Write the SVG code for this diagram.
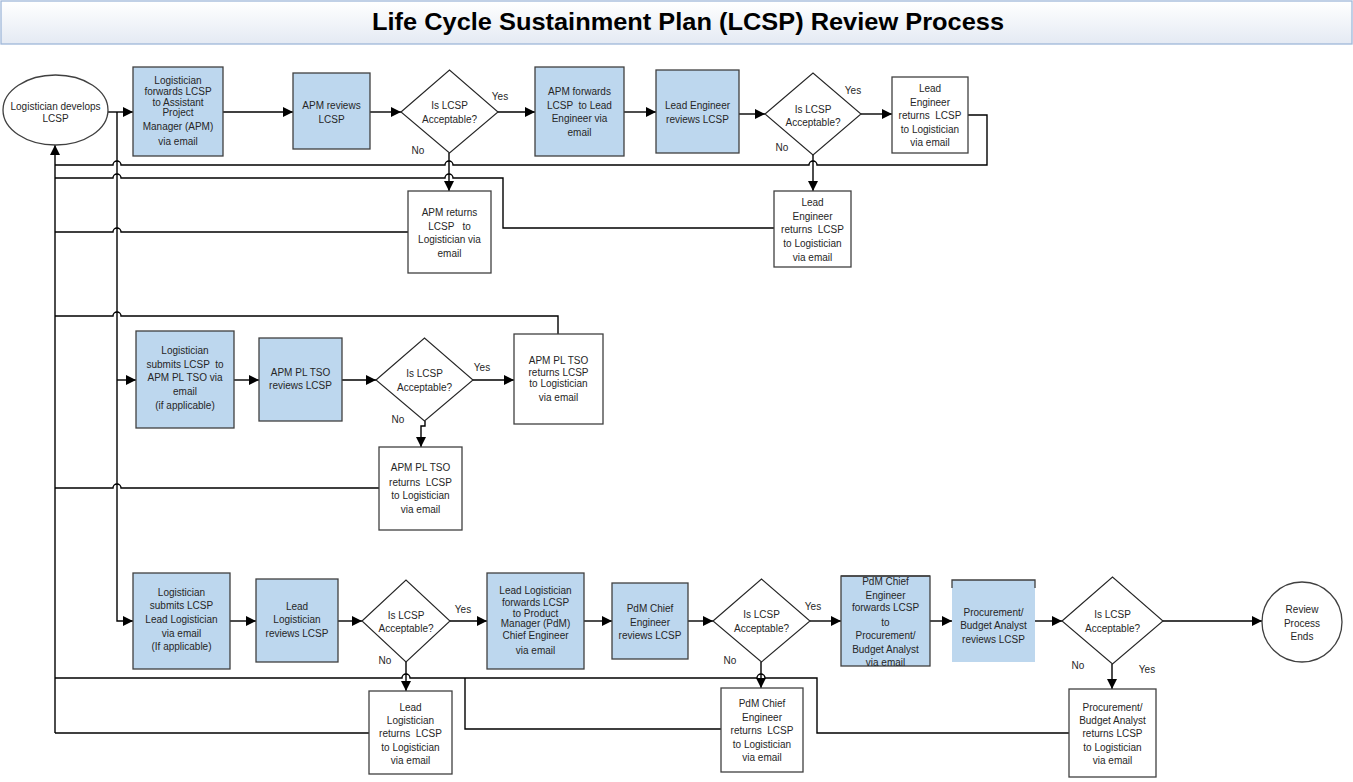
<svg xmlns="http://www.w3.org/2000/svg" width="1353" height="782" viewBox="0 0 1353 782">
<defs>
<linearGradient id="tg" x1="0" y1="0" x2="0" y2="1"><stop offset="0" stop-color="#ffffff"/><stop offset="1" stop-color="#e4eaf3"/></linearGradient>
<marker id="ah" markerWidth="10" markerHeight="10" refX="10" refY="5" orient="auto" markerUnits="userSpaceOnUse"><path d="M0,0 L10,5 L0,10 z" fill="#000"/></marker>
</defs>
<style>
text{font-family:"Liberation Sans",Arial,sans-serif;font-size:10px;fill:#262626;text-anchor:middle;white-space:pre}
.b{fill:#bdd7ee;stroke:#404040;stroke-width:1.3}
.w{fill:#fff;stroke:#404040;stroke-width:1.3}
.d{fill:#fff;stroke:#262626;stroke-width:1.1}
.c{fill:none;stroke:#000;stroke-width:1.4}
.a{marker-end:url(#ah)}
.t{font-family:"Liberation Sans Narrow","Liberation Sans",Arial,sans-serif;font-size:24px;font-weight:bold;fill:#000}
</style>
<rect width="1353" height="782" fill="#fff"/>
<g id="title"><rect x="1" y="1" width="1351" height="43" fill="url(#tg)" stroke="#9fb7d9" stroke-width="1.3"/><text class="t" x="688" y="30" textLength="632" lengthAdjust="spacingAndGlyphs">Life Cycle Sustainment Plan (LCSP) Review Process</text></g>
<g id="connectors">
<path class="c a" d="M108,112 H133"/>
<path class="c a" d="M117,112 V621 H133"/>
<path class="c a" d="M117,380 H136"/>
<path class="c a" d="M223,112 H293"/>
<path class="c a" d="M370,112 H401"/>
<path class="c a" d="M498,112 H535"/>
<path class="c a" d="M624,112 H656"/>
<path class="c a" d="M739,114 H765"/>
<path class="c a" d="M861,114 H892"/>
<path class="c a" d="M449,153 V191"/>
<path class="c a" d="M813,155 V191"/>
<path class="c" d="M55,165 H113 A4,4 0 0 1 121,165 H445 A4,4 0 0 1 453,165 H809 A4,4 0 0 1 817,165 H987 V115 H968"/>
<path class="c" d="M55,178 H113 A4,4 0 0 1 121,178 H445 A4,4 0 0 1 453,178 H503 V228 H774"/>
<path class="c" d="M55,232 H113 A4,4 0 0 1 121,232 H408"/>
<path class="c" d="M55,316 H113 A4,4 0 0 1 121,316 H558 V334"/>
<path class="c" d="M55,488 H113 A4,4 0 0 1 121,488 H379"/>
<path class="c a" d="M234,380 H259"/>
<path class="c a" d="M342,380 H376"/>
<path class="c a" d="M473,380 H514"/>
<path class="c a" d="M425,421 V426 H421 V447"/>
<path class="c a" d="M230,621 H256"/>
<path class="c a" d="M338,621 H362"/>
<path class="c a" d="M450,621 H487"/>
<path class="c a" d="M584,621 H612"/>
<path class="c a" d="M688,621 H713"/>
<path class="c a" d="M810,621 H841"/>
<path class="c a" d="M930,621 H952"/>
<path class="c a" d="M1035,621 H1062"/>
<path class="c a" d="M1163,621 H1262"/>
<path class="c a" d="M406,662 V691"/>
<path class="c a" d="M761,662 V688"/>
<path class="c a" d="M1112,664 V689"/>
<path class="c" stroke-width="2" d="M55,678 H402 A4,4 0 0 1 410,678 H465"/>
<path class="c" d="M465,678 H757 A4,4 0 0 1 765,678 H817 V733 H1069"/>
<path class="c" d="M465,678 V729 H721"/>
<path class="c" d="M369,733 H55"/>
<path class="c a" stroke-width="2.6" d="M55,733 V145"/>
</g>
<g id="start"><ellipse cx="55.5" cy="110" rx="52.5" ry="35" class="w"/><text x="55.5" y="110">Logistician develops</text><text x="55.5" y="122">LCSP</text></g>
<g id="n1"><rect x="133" y="67" width="90" height="89" class="b"/><text x="178" y="84">Logistician</text><text x="178" y="94.5">forwards LCSP</text><text x="178" y="106">to Assistant</text><text x="178" y="115.5">Project</text><text x="178" y="129.5">Manager (APM)</text><text x="178" y="144.5">via email</text></g>
<g id="n2"><rect x="293" y="73" width="77" height="76" class="b"/><text x="331.5" y="108.5">APM reviews</text><text x="331.5" y="122.5">LCSP</text></g>
<g id="d1"><path d="M401,112 L449.5,70 L498,112 L449.5,153 Z" class="d"/><text x="449.5" y="108.5">Is LCSP</text><text x="449.5" y="122.5">Acceptable?</text><text x="500" y="100">Yes</text><text x="418" y="153.5">No</text></g>
<g id="n3"><rect x="535" y="67" width="89" height="89" class="b"/><text x="579.5" y="94.5">APM forwards</text><text x="579.5" y="108.5">LCSP  to Lead</text><text x="579.5" y="121.5">Engineer via</text><text x="579.5" y="135.5">email</text></g>
<g id="n4"><rect x="656" y="70" width="83" height="83" class="b"/><text x="697.5" y="108.5">Lead Engineer</text><text x="697.5" y="122.5">reviews LCSP</text></g>
<g id="d2"><path d="M765,114 L813,73 L861,114 L813,155 Z" class="d"/><text x="813" y="112.5">Is LCSP</text><text x="813" y="125.5">Acceptable?</text><text x="853" y="93.5">Yes</text><text x="782" y="150.5">No</text></g>
<g id="n5"><rect x="892" y="77" width="76" height="76" class="w"/><text x="930" y="91.5">Lead</text><text x="930" y="105.5">Engineer</text><text x="930" y="118.5">returns  LCSP</text><text x="930" y="132.5">to Logistician</text><text x="930" y="145.5">via email</text></g>
<g id="n6"><rect x="408" y="191" width="83" height="82" class="w"/><text x="449.5" y="215.5">APM returns</text><text x="449.5" y="229.5">LCSP   to</text><text x="449.5" y="242.5">Logistician via</text><text x="449.5" y="256.5">email</text></g>
<g id="n7"><rect x="774" y="191" width="77" height="76" class="w"/><text x="812.5" y="205.5">Lead</text><text x="812.5" y="219.5">Engineer</text><text x="812.5" y="232.5">returns  LCSP</text><text x="812.5" y="246.5">to Logistician</text><text x="812.5" y="260.5">via email</text></g>
<g id="n8"><rect x="136" y="331" width="98" height="97" class="b"/><text x="185" y="353.5">Logistician</text><text x="185" y="367.5">submits LCSP  to</text><text x="185" y="380.5">APM PL TSO via</text><text x="185" y="394.5">email</text><text x="185" y="408.5">(if applicable)</text></g>
<g id="n9"><rect x="259" y="338" width="83" height="83" class="b"/><text x="300.5" y="375.5">APM PL TSO</text><text x="300.5" y="388.5">reviews LCSP</text></g>
<g id="d3"><path d="M376,380 L424.5,338 L473,380 L424.5,421 Z" class="d"/><text x="424.5" y="376.5">Is LCSP</text><text x="424.5" y="390.5">Acceptable?</text><text x="482" y="370.5">Yes</text><text x="398" y="422.5">No</text></g>
<g id="n10"><rect x="514" y="334" width="89" height="90" class="w"/><text x="558.5" y="363.5">APM PL TSO</text><text x="558.5" y="375.5">returns LCSP</text><text x="558.5" y="386.5">to Logistician</text><text x="558.5" y="400.5">via email</text></g>
<g id="n11"><rect x="379" y="447" width="83" height="83" class="w"/><text x="420.5" y="470.5">APM PL TSO</text><text x="420.5" y="485.5">returns  LCSP</text><text x="420.5" y="498.5">to Logistician</text><text x="420.5" y="512.5">via email</text></g>
<g id="n12"><rect x="133" y="573" width="97" height="96" class="b"/><text x="181.5" y="595.5">Logistician</text><text x="181.5" y="608.5">submits LCSP</text><text x="181.5" y="622.5">Lead Logistician</text><text x="181.5" y="636.5">via email</text><text x="181.5" y="649.5">(If applicable)</text></g>
<g id="n13"><rect x="256" y="579" width="82" height="83" class="b"/><text x="297" y="609.5">Lead</text><text x="297" y="622.5">Logistician</text><text x="297" y="636.5">reviews LCSP</text></g>
<g id="d4"><path d="M362,621 L406,580 L450,621 L406,662 Z" class="d"/><text x="406" y="618.5">Is LCSP</text><text x="406" y="631.5">Acceptable?</text><text x="463" y="612.5">Yes</text><text x="385" y="663.5">No</text></g>
<g id="n14"><rect x="487" y="573" width="97" height="96" class="b"/><text x="535.5" y="593.5">Lead Logistician</text><text x="535.5" y="605.5">forwards LCSP</text><text x="535.5" y="616.5">to Product</text><text x="535.5" y="626.5">Manager (PdM)</text><text x="535.5" y="638.5">Chief Engineer</text><text x="535.5" y="653.5">via email</text></g>
<g id="n15"><rect x="612" y="583" width="76" height="76" class="b"/><text x="650" y="611.5">PdM Chief</text><text x="650" y="625.5">Engineer</text><text x="650" y="638.5">reviews LCSP</text></g>
<g id="d5"><path d="M713,621 L761.5,579 L810,621 L761.5,662 Z" class="d"/><text x="761.5" y="617.5">Is LCSP</text><text x="761.5" y="631.5">Acceptable?</text><text x="813" y="609.5">Yes</text><text x="730" y="663.5">No</text></g>
<g id="n16"><rect x="841" y="576" width="89" height="90" class="b"/><text x="885.5" y="584.5">PdM Chief</text><text x="885.5" y="598.5">Engineer</text><text x="885.5" y="610.5">forwards LCSP</text><text x="885.5" y="625.5">to</text><text x="885.5" y="638.5">Procurement/</text><text x="885.5" y="652.5">Budget Analyst</text><text x="885.5" y="665.5">via email</text><path d="M841,576 H930" stroke="#404040" stroke-width="1.3"/></g>
<g id="n17"><rect x="952" y="580" width="83" height="82" fill="#bdd7ee"/><path d="M952,588 V580 H1035 V588" fill="none" stroke="#404040" stroke-width="1.3"/><text x="993.5" y="615.5">Procurement/</text><text x="993.5" y="628.5">Budget Analyst</text><text x="993.5" y="642.5">reviews LCSP</text></g>
<g id="d6"><path d="M1062,621 L1112.5,577 L1163,621 L1112.5,664 Z" class="d"/><text x="1112.5" y="617.5">Is LCSP</text><text x="1112.5" y="631.5">Acceptable?</text><text x="1078" y="668.5">No</text><text x="1147" y="672.5">Yes</text></g>
<g id="end"><circle cx="1302" cy="622" r="40" class="w"/><text x="1302" y="612.5">Review</text><text x="1302" y="626.5">Process</text><text x="1302" y="639.5">Ends</text></g>
<g id="n18"><rect x="369" y="691" width="83" height="83" class="w"/><text x="410.5" y="710.5">Lead</text><text x="410.5" y="723.5">Logistician</text><text x="410.5" y="736.5">returns  LCSP</text><text x="410.5" y="750.5">to Logistician</text><text x="410.5" y="763.5">via email</text></g>
<g id="n19"><rect x="721" y="688" width="82" height="84" class="w"/><text x="762" y="706.5">PdM Chief</text><text x="762" y="720.5">Engineer</text><text x="762" y="733.5">returns  LCSP</text><text x="762" y="747.5">to Logistician</text><text x="762" y="760.5">via email</text></g>
<g id="n20"><rect x="1069" y="689" width="87" height="88" class="w"/><text x="1112.5" y="710.5">Procurement/</text><text x="1112.5" y="723.5">Budget Analyst</text><text x="1112.5" y="736.5">returns LCSP</text><text x="1112.5" y="750.5">to Logistician</text><text x="1112.5" y="763.5">via email</text></g>
</svg>
